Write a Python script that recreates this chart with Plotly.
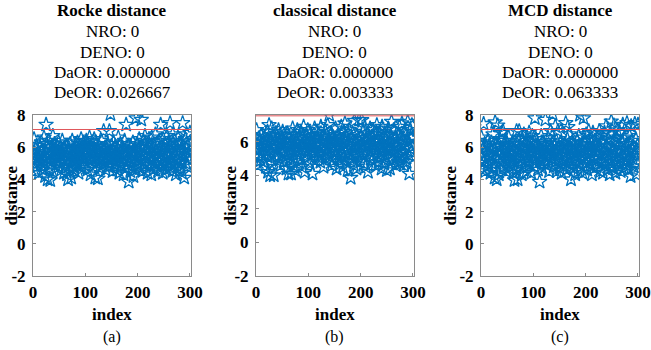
import plotly.graph_objects as go

# ---------------- data ----------------
panel_titles = ["Rocke distance", "classical distance", "MCD distance"]
nro = [0, 0, 0]
deno = [0, 0, 0]
daor = ["0.000000", "0.000000", "0.000000"]
deor = ["0.026667", "0.003333", "0.063333"]
sub_labels = ["(a)", "(b)", "(c)"]
thresholds = [7.1, 7.55, 7.1]
y_max = [8, 7.6, 8]
x_ticks = [0, 100, 200, 300]
y_ticks = [-2, 0, 2, 4, 6, 8]
y_tick_text = ["-2", "0", "2", "4", "6", "8"]

rocke = [
    5.6, 6.5, 4.5, 5.2, 5.9, 5.4, 6.1, 4.8, 5.3, 5.7, 4.4, 5.5, 6.0, 5.1, 4.9, 6.3, 5.8, 5.2, 4.6, 5.4,
    6.6, 5.0, 4.2, 5.7, 7.4, 6.2, 5.3, 4.0, 5.9, 6.4, 4.7, 5.5, 3.95, 5.1, 6.0, 5.6, 4.5, 6.7, 5.2, 5.8,
    6.2, 5.4, 4.9, 5.9, 6.1, 5.3, 5.7, 4.8, 6.3, 5.5, 5.0, 6.0, 5.6, 4.6, 5.8, 6.4, 5.2, 5.5, 4.4, 5.9,
    5.1, 4.7, 5.6, 6.0, 4.3, 5.4, 4.0, 5.8, 5.2, 4.5, 6.2, 5.0, 4.1, 5.6, 6.4, 4.8, 5.3, 5.9, 4.6, 5.1,
    6.1, 5.5, 4.9, 5.7, 6.3, 5.2, 4.4, 5.8, 6.0, 5.4, 5.0, 6.5, 5.6, 4.7, 5.9, 6.2, 5.3, 4.9, 5.7, 6.0,
    5.5, 6.4, 5.8, 4.6, 6.1, 5.9, 5.2, 6.6, 5.4, 4.3, 6.0, 5.7, 6.3, 5.1, 4.8, 5.9, 6.5, 5.6, 4.1, 5.3,
    6.2, 5.0, 5.8, 4.05, 5.5, 6.1, 5.3, 4.7, 5.9, 5.2, 6.4, 5.6, 4.9, 5.4, 7.0, 5.8, 5.1, 6.0, 4.6, 5.5,
    5.9, 5.3, 6.2, 4.8, 5.6, 7.0, 5.0, 8.05, 5.7, 6.1, 5.2, 4.5, 5.8, 6.3, 5.4, 4.9, 5.6, 6.0, 5.1, 5.5,
    4.6, 5.9, 6.6, 5.3, 4.4, 5.7, 6.2, 5.0, 4.8, 5.5, 6.0, 5.2, 4.3, 5.8, 6.4, 5.4, 4.7, 7.4, 5.6, 5.1,
    4.9, 6.1, 3.85, 5.3, 5.7, 4.5, 6.0, 5.2, 4.8, 5.6, 6.3, 4.2, 5.4, 5.9, 4.6, 5.5, 7.8, 5.1, 6.2, 4.9,
    5.8, 5.3, 6.5, 4.7, 5.6, 6.0, 7.7, 5.2, 4.5, 5.9, 6.4, 5.5, 4.9, 6.7, 5.3, 5.8, 6.1, 5.0, 4.4, 5.7,
    6.3, 5.4, 4.8, 6.0, 5.6, 4.3, 6.6, 5.2, 5.9, 4.6, 6.2, 5.5, 5.0, 6.8, 5.7, 4.9, 6.1, 5.3, 4.5, 5.8,
    6.4, 5.1, 4.7, 7.4, 5.6, 6.0, 5.2, 4.4, 6.5, 5.8, 5.3, 4.9, 6.2, 5.5, 4.6, 6.7, 5.0, 5.9, 6.3, 5.4,
    4.8, 7.5, 5.7, 6.1, 5.1, 4.5, 6.8, 5.3, 5.9, 4.9, 6.4, 5.6, 4.3, 6.0, 5.2, 4.7, 6.6, 5.5, 5.0, 6.2,
    4.6, 5.8, 6.3, 5.1, 4.4, 7.5, 5.7, 6.0, 4.1, 5.4, 6.5, 5.0, 5.9, 6.8, 4.8, 5.3, 6.1, 5.6, 5.2, 6.9,
]

classical = [
    6.7, 5.8, 4.6, 5.5, 6.2, 5.1, 6.0, 5.6, 4.9, 6.4, 5.3, 5.9, 6.1, 4.8, 5.7, 6.3, 5.2, 5.8, 4.5, 6.0,
    5.4, 6.6, 4.2, 5.9, 7.0, 5.5, 4.0, 6.1, 5.3, 6.8, 4.7, 5.8, 6.3, 4.0, 5.6, 6.0, 5.1, 6.5, 5.7, 4.9,
    6.2, 5.5, 6.7, 5.0, 5.9, 6.4, 4.6, 5.8, 6.1, 5.3, 6.6, 5.6, 4.8, 6.0, 5.4, 6.3, 5.1, 4.4, 5.9, 6.5,
    5.2, 4.1, 5.7, 6.2, 4.9, 5.5, 4.1, 6.0, 5.3, 6.8, 4.6, 5.8, 6.4, 5.0, 4.3, 5.6, 6.1, 5.4, 6.7, 5.9,
    4.8, 6.3, 5.5, 6.0, 5.1, 6.6, 5.7, 4.5, 6.2, 5.8, 6.9, 5.3, 4.2, 6.0, 5.6, 6.4, 5.0, 5.9, 6.7, 5.4,
    6.1, 5.7, 4.7, 6.5, 5.2, 5.9, 6.3, 4.1, 5.6, 6.0, 5.3, 6.8, 5.5, 4.9, 6.2, 5.8, 6.6, 5.1, 5.7, 6.4,
    5.4, 6.0, 4.8, 6.9, 5.6, 5.2, 6.3, 5.9, 4.5, 6.1, 5.5, 6.7, 5.0, 5.8, 6.4, 5.3, 7.0, 5.7, 6.2, 7.6,
    5.1, 6.0, 5.6, 6.5, 4.6, 5.9, 6.3, 5.4, 4.9, 6.1, 5.7, 6.8, 5.2, 4.4, 6.0, 5.5, 6.4, 5.0, 5.8, 6.2,
    4.7, 5.6, 6.9, 5.3, 6.1, 4.5, 5.9, 6.6, 5.1, 7.1, 5.4, 4.8, 6.3, 5.7, 4.3, 6.0, 5.5, 6.7, 5.2, 4.9,
    3.85, 5.8, 6.2, 5.0, 6.5, 5.6, 4.6, 7.25, 5.3, 6.0, 5.9, 4.4, 6.4, 5.1, 5.7, 6.1, 7.3, 5.4, 4.8, 6.3,
    5.8, 7.3, 5.2, 6.6, 5.5, 4.7, 6.0, 6.9, 5.3, 4.5, 6.2, 5.7, 6.5, 4.2, 5.9, 6.1, 5.4, 6.8, 5.0, 5.6,
    6.3, 4.9, 5.8, 6.7, 5.2, 6.0, 5.5, 4.6, 6.4, 5.9, 7.0, 5.3, 6.2, 4.8, 5.7, 6.6, 5.1, 6.0, 5.6, 4.4,
    6.9, 5.4, 6.2, 5.8, 4.7, 6.5, 5.2, 6.1, 5.7, 4.3, 6.3, 5.5, 6.8, 5.0, 5.9, 4.4, 6.4, 5.6, 7.2, 5.3,
    6.0, 4.9, 6.7, 5.4, 5.8, 6.2, 4.6, 5.7, 6.5, 5.1, 6.0, 4.8, 5.5, 6.9, 5.2, 4.7, 6.3, 5.9, 7.1, 4.9,
    6.1, 5.3, 4.6, 6.6, 5.8, 5.0, 6.4, 4.8, 5.5, 7.2, 6.0, 5.2, 4.1, 6.7, 5.6, 6.2, 5.4, 7.0, 5.7, 6.3,
]

mcd = [
    6.6, 5.4, 4.6, 5.9, 7.45, 5.1, 6.2, 4.5, 5.7, 6.0, 5.2, 4.8, 6.4, 5.5, 4.9, 6.1, 5.6, 4.4, 5.8, 6.3,
    5.0, 5.4, 6.8, 4.7, 5.9, 4.1, 7.55, 5.3, 6.2, 4.0, 5.6, 7.35, 6.0, 4.3, 5.5, 6.5, 5.1, 4.6, 5.8, 6.9,
    5.4, 7.0, 4.8, 6.1, 5.7, 6.4, 5.2, 4.5, 5.9, 6.2, 5.6, 5.0, 6.6, 4.7, 5.3, 5.8, 6.0, 4.9, 5.5, 6.3,
    5.1, 4.4, 5.8, 3.95, 5.4, 6.1, 4.6, 7.0, 5.7, 4.0, 5.2, 6.4, 7.0, 4.8, 5.6, 6.0, 5.0, 4.3, 6.5, 5.9,
    5.4, 6.8, 4.7, 5.8, 6.2, 5.1, 4.5, 6.6, 5.5, 6.0, 5.3, 6.9, 4.9, 5.7, 6.3, 4.4, 5.9, 6.7, 5.2, 5.6,
    6.1, 4.8, 7.8, 5.4, 6.5, 5.0, 5.8, 6.2, 4.6, 5.6, 6.0, 3.85, 5.3, 5.9, 6.7, 5.1, 4.7, 5.7, 6.3, 5.5,
    5.0, 6.1, 7.7, 5.4, 4.9, 6.0, 5.6, 6.6, 5.2, 4.5, 5.8, 6.4, 7.0, 5.3, 5.9, 6.2, 8.05, 5.5, 4.8, 6.1,
    5.7, 7.3, 5.1, 6.4, 4.5, 5.8, 7.0, 5.3, 6.0, 4.7, 5.5, 6.3, 5.0, 4.4, 5.9, 6.1, 5.4, 4.8, 5.6, 6.2,
    5.2, 7.5, 5.8, 4.6, 6.5, 7.25, 5.3, 6.0, 6.8, 4.9, 5.5, 4.0, 5.9, 6.3, 5.1, 4.7, 5.7, 6.1, 5.4, 4.3,
    6.0, 5.6, 5.0, 6.4, 4.5, 5.8, 6.7, 5.2, 8.0, 5.5, 4.8, 6.1, 5.9, 4.4, 6.6, 7.8, 5.3, 5.7, 6.2, 5.0,
    6.8, 5.4, 4.6, 6.0, 5.8, 7.0, 5.1, 6.5, 4.9, 5.6, 6.2, 4.3, 5.9, 6.9, 5.3, 4.7, 6.4, 5.7, 5.2, 6.1,
    4.8, 6.6, 5.5, 6.0, 5.0, 7.0, 5.8, 4.5, 6.3, 5.4, 6.7, 5.1, 4.4, 6.2, 5.7, 6.9, 5.3, 4.9, 7.3, 5.6,
    6.0, 4.6, 6.5, 5.2, 5.9, 4.3, 6.8, 5.5, 7.6, 5.0, 6.2, 4.7, 5.8, 7.35, 5.4, 6.4, 4.4, 5.7, 6.6, 7.05,
    5.1, 6.1, 4.8, 5.6, 6.9, 5.3, 4.5, 5.9, 6.3, 5.0, 7.4, 5.4, 4.7, 6.6, 5.8, 6.0, 4.9, 5.5, 7.5, 5.2,
    6.2, 4.6, 5.7, 6.7, 5.1, 4.2, 7.3, 5.9, 6.4, 5.3, 4.8, 6.0, 5.6, 7.45, 5.0, 6.5, 4.3, 5.8, 6.1, 7.4,
]

series = [rocke, classical, mcd]

# ---------------- layout ----------------
W, H = 651, 350
FONT = "Liberation Serif"
BLUE = "#0072BD"
RED = "#e0555a"
AXC = "#8a8a8a"

# plot-area boxes in pixels (left, right, top, bottom)
boxes = [(33, 191, 115, 276), (256, 414, 115, 276), (481, 639, 115, 276)]
ylabel_offsets = [22, 26, 31]


def px(x):
    return x / W


def py(y):
    return 1 - y / H


fig = go.Figure()
annotations = []
shapes = []
layout_axes = {}

for i, vals in enumerate(series):
    n = i + 1
    xa = "x" if n == 1 else f"x{n}"
    ya = "y" if n == 1 else f"y{n}"
    idx = list(range(1, len(vals) + 1))
    fig.add_trace(go.Scatter(
        x=idx, y=vals, mode="markers", xaxis=xa, yaxis=ya, showlegend=False,
        marker=dict(symbol="star-open", size=11, color=BLUE, line=dict(width=1.3, color=BLUE)),
    ))
    l, r, t, b = boxes[i]
    axis_common = dict(
        showline=True, mirror=True, linecolor=AXC, linewidth=1, automargin=False,
        ticks="inside", ticklen=3, tickcolor=AXC, showgrid=False, zeroline=False,
        tickfont=dict(family=FONT, size=17, color="black", weight="bold"),
    )
    layout_axes["xaxis" if n == 1 else f"xaxis{n}"] = dict(
        domain=[px(l), px(r)], anchor=ya, range=[0, 302],
        tickvals=x_ticks, ticklabelstandoff=1, **axis_common)
    layout_axes["yaxis" if n == 1 else f"yaxis{n}"] = dict(
        domain=[py(b), py(t)], anchor=xa, range=[-2, y_max[i]],
        tickvals=y_ticks, ticktext=y_tick_text, ticklabelstandoff=3, **axis_common)

    # threshold line
    shapes.append(dict(type="line", xref=f"{xa} domain", yref=ya,
                       x0=0, x1=1, y0=thresholds[i], y1=thresholds[i],
                       line=dict(color=RED, width=1)))

    cx = px((l + r) / 2)
    title_lines = [
        (f"<b>{panel_titles[i]}</b>", 10),
        (f"NRO: {nro[i]}", 32),
        (f"DENO: {deno[i]}", 52),
        (f"DaOR: {daor[i]}", 72),
        (f"DeOR: {deor[i]}", 92),
    ]
    for txt, yy in title_lines:
        annotations.append(dict(text=txt, x=cx, y=py(yy), xref="paper", yref="paper",
                                xanchor="center", yanchor="middle", showarrow=False,
                                font=dict(family=FONT, size=17, color="black")))
    # axis titles
    annotations.append(dict(text="<b>index</b>", x=cx, y=py(314), xref="paper", yref="paper",
                            xanchor="center", yanchor="middle", showarrow=False,
                            font=dict(family=FONT, size=17, color="black")))
    annotations.append(dict(text="<b>distance</b>", x=px(l - ylabel_offsets[i]), y=py((t + b) / 2),
                            xref="paper", yref="paper", textangle=-90,
                            xanchor="center", yanchor="middle", showarrow=False,
                            font=dict(family=FONT, size=17, color="black")))
    annotations.append(dict(text=sub_labels[i], x=cx, y=py(337), xref="paper", yref="paper",
                            xanchor="center", yanchor="middle", showarrow=False,
                            font=dict(family=FONT, size=16, color="black")))

fig.update_layout(
    width=W, height=H, margin=dict(l=0, r=0, t=0, b=0, autoexpand=False),
    paper_bgcolor="white", plot_bgcolor="white",
    font=dict(family=FONT),
    annotations=annotations, shapes=shapes, **layout_axes,
)

fig.write_html("out.html")
